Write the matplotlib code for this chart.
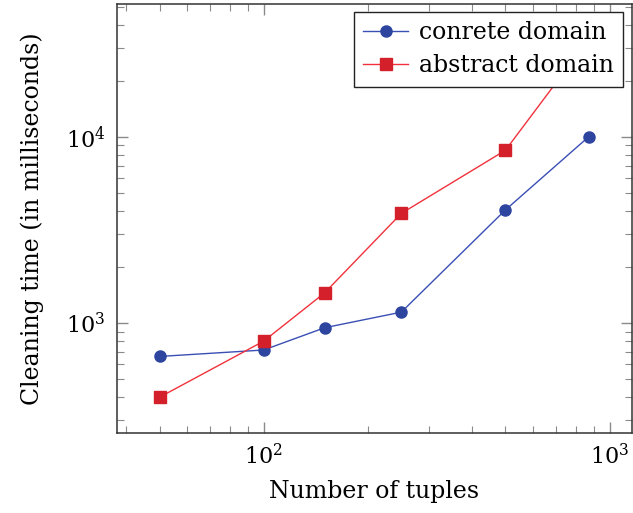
import numpy as np
import matplotlib
matplotlib.use("Agg")
import matplotlib.pyplot as plt
from matplotlib.ticker import LogLocator, NullFormatter

plt.rcParams['font.family'] = ['DejaVu Serif']
plt.rcParams['mathtext.fontset'] = 'dejavuserif'

# data
tuples = [50, 100, 150, 250, 500, 870]
concrete_ms = [662, 717, 944, 1145, 4050, 10000]
abstract_ms = [400, 800, 1453, 3880, 8470, 33400]

fig = plt.figure(figsize=(6.33, 5.13), dpi=100)
ax = fig.add_axes([116.7 / 633, 1 - 433 / 513, (631.5 - 116.7) / 633, (433 - 3.5) / 513])

ax.plot(tuples, concrete_ms, color='#3a4fb5', lw=1.0, marker='o', ms=8,
        mfc='#2e45a0', mec='#2e45a0', label='conrete domain', zorder=3)
ax.plot(tuples, abstract_ms, color='#f0323c', lw=1.0, marker='s', ms=8.3,
        mfc='#d3202a', mec='#d3202a', label='abstract domain', zorder=3)

ax.set_xscale('log')
ax.set_yscale('log')

# pgfplots style enlarged limits (10% in log space)
lx = np.log10([min(tuples), max(tuples)])
ly = np.log10([min(abstract_ms), max(abstract_ms)])
ex = 0.1 * (lx[1] - lx[0])
ey = 0.1 * (ly[1] - ly[0])
ax.set_xlim(10 ** (lx[0] - ex), 10 ** (lx[1] + ex))
ax.set_ylim(10 ** (ly[0] - ey), 10 ** (ly[1] + ey))

ax.xaxis.set_major_locator(LogLocator(base=10))
ax.yaxis.set_major_locator(LogLocator(base=10))
ax.xaxis.set_minor_locator(LogLocator(base=10, subs=np.arange(2, 10)))
ax.yaxis.set_minor_locator(LogLocator(base=10, subs=np.arange(2, 10)))
ax.xaxis.set_minor_formatter(NullFormatter())
ax.yaxis.set_minor_formatter(NullFormatter())

ax.tick_params(which='both', direction='in', top=True, right=True, color='#8a8a8a',
               labelsize=16)
ax.tick_params(which='major', length=8, width=1.0, pad=8)
ax.tick_params(which='minor', length=5, width=0.8)
for s in ax.spines.values():
    s.set_linewidth(1.1)
    s.set_color('#333333')

ax.set_xlabel('Number of tuples', fontsize=17, labelpad=8)
ax.set_ylabel('Cleaning time (in milliseconds)', fontsize=17, labelpad=16)

leg = ax.legend(loc='upper right', fontsize=17, frameon=True, fancybox=False,
                edgecolor='#222222', framealpha=1.0, handlelength=1.9,
                borderpad=0.4, labelspacing=0.42, handletextpad=0.45,
                borderaxespad=0.35)
leg.get_frame().set_linewidth(1.0)
leg.set_zorder(5)

fig.savefig('out.png', dpi=100)
